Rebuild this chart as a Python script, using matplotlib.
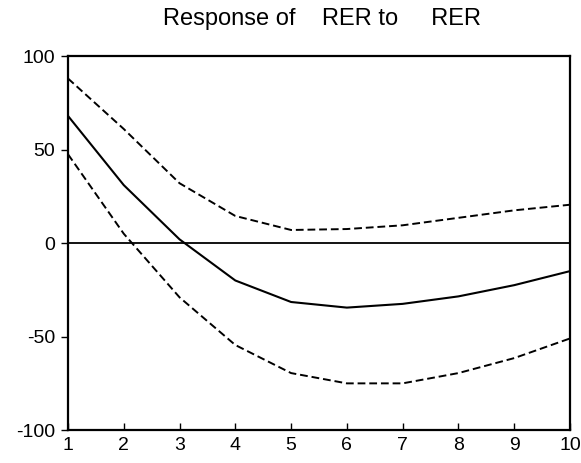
import matplotlib
matplotlib.use("Agg")
import matplotlib.pyplot as plt

periods = [1, 2, 3, 4, 5, 6, 7, 8, 9, 10]
response = [68, 31, 2, -20, -31.5, -34.5, -32.5, -28.5, -22.5, -15]
upper_band = [88, 61, 32, 14.5, 7, 7.5, 9.5, 13.5, 17.5, 20.5]
lower_band = [47.5, 5, -29, -54.5, -69.5, -75, -75, -69.5, -61.5, -51]

y_ticks = [-100, -50, 0, 50, 100]
title_text = "Response of    RER to     RER"

plt.rcParams["font.family"] = ["Liberation Sans", "DejaVu Sans"]
plt.rcParams["axes.unicode_minus"] = False

fig = plt.figure(figsize=(5.81, 4.63), dpi=100)
ax = fig.add_axes([0.117, 0.071, 0.864, 0.808])

ax.axhline(0, color="black", linewidth=1.3)
ax.plot(periods, response, color="black", linewidth=1.5, linestyle="-")
ax.plot(periods, upper_band, color="black", linewidth=1.4, linestyle=(0, (4, 2)))
ax.plot(periods, lower_band, color="black", linewidth=1.4, linestyle=(0, (4, 2)))

ax.set_xlim(1, 10)
ax.set_ylim(-100, 100)
ax.set_xticks(periods)
ax.set_yticks(y_ticks)

for side in ax.spines.values():
    side.set_linewidth(1.6)
    side.set_color("black")

ax.tick_params(axis="y", direction="out", length=5, width=1, labelsize=14, pad=4)
ax.tick_params(axis="x", direction="in", length=5, width=1, labelsize=14, pad=5)

fig.text(0.554, 0.946, title_text, ha="center", va="baseline", fontsize=17)

fig.savefig("out.png", dpi=100)
